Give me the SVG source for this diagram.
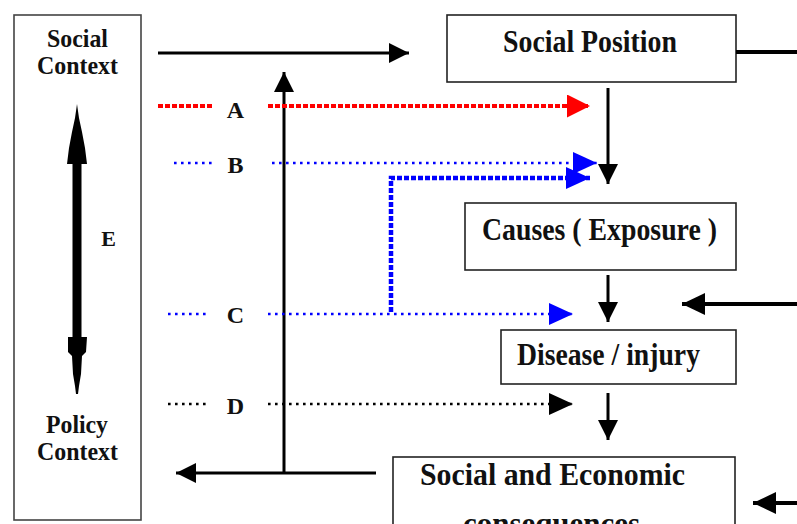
<svg xmlns="http://www.w3.org/2000/svg" width="797" height="524" viewBox="0 0 797 524">
<style>
.box{fill:#fff;stroke:#222;stroke-width:1.6}
.t{font-family:"Liberation Serif","Times New Roman",serif;font-weight:bold;fill:#111;text-anchor:middle}
.big{font-size:31px}
.side{font-size:25px}
.lab{font-size:24px}
.solid{fill:none;stroke:#000;stroke-width:3}
.thick{fill:none;stroke:#000;stroke-width:4}
.red{fill:none;stroke:#ff0000;stroke-width:4;stroke-dasharray:5 2}
.blue{fill:none;stroke:#0000ff;stroke-width:2.6;stroke-dasharray:2.6 4.4}
.bluethick{fill:none;stroke:#0000ff;stroke-width:4.5;stroke-dasharray:5 2}
.blk{fill:none;stroke:#000;stroke-width:2.6;stroke-dasharray:2.6 4.4}
</style>
<defs>
<marker id="hBlack" markerUnits="userSpaceOnUse" markerWidth="22" markerHeight="22" refX="20" refY="10" orient="auto"><path d="M0,0 L20,10 L0,20 z" fill="#000"/></marker>
<marker id="hBlackBig" markerUnits="userSpaceOnUse" markerWidth="26" markerHeight="24" refX="23" refY="11" orient="auto"><path d="M0,0 L23,11 L0,22 z" fill="#000"/></marker>
<marker id="hBlackDot" markerUnits="userSpaceOnUse" markerWidth="26" markerHeight="24" refX="24" refY="11" orient="auto"><path d="M0,0 L24,11 L0,22 z" fill="#000"/></marker>
<marker id="hRed" markerUnits="userSpaceOnUse" markerWidth="26" markerHeight="24" refX="23" refY="11.5" orient="auto"><path d="M0,0 L23,11.5 L0,23 z" fill="#ff0000"/></marker>
<marker id="hBlue" markerUnits="userSpaceOnUse" markerWidth="26" markerHeight="24" refX="24" refY="11" orient="auto"><path d="M0,0 L24,11 L0,22 z" fill="#0000ff"/></marker>
</defs>

<g id="node-social-context">
  <rect x="14" y="15" width="127" height="505" style="fill:none;stroke:#444;stroke-width:1.6"/>
  <text class="t side" x="77.5" y="47" textLength="61" lengthAdjust="spacingAndGlyphs">Social</text>
  <text class="t side" x="77.5" y="74" textLength="81" lengthAdjust="spacingAndGlyphs">Context</text>
  <text class="t side" x="77" y="433" textLength="62" lengthAdjust="spacingAndGlyphs">Policy</text>
  <text class="t side" x="77.5" y="460" textLength="81" lengthAdjust="spacingAndGlyphs">Context</text>
</g>

<g id="node-social-position">
  <rect class="box" x="447" y="15" width="289" height="67"/>
  <text class="t big" x="590" y="52" textLength="174" lengthAdjust="spacingAndGlyphs">Social Position</text>
</g>

<g id="node-causes">
  <rect class="box" x="465" y="203" width="271" height="67"/>
  <text class="t big" x="599.5" y="240" textLength="235" lengthAdjust="spacingAndGlyphs">Causes ( Exposure )</text>
</g>

<g id="node-disease">
  <rect class="box" x="501" y="330" width="235" height="54"/>
  <text class="t big" x="608.5" y="365" textLength="183" lengthAdjust="spacingAndGlyphs">Disease / injury</text>
</g>

<g id="node-consequences">
  <rect class="box" x="393" y="457" width="342" height="90"/>
  <text class="t big" x="552.5" y="485" textLength="265" lengthAdjust="spacingAndGlyphs">Social and Economic</text>
  <text class="t big" x="551.5" y="534" textLength="177" lengthAdjust="spacingAndGlyphs">consequences</text>
</g>

<g id="connectors">
  <line class="solid" x1="158" y1="53" x2="409" y2="53" marker-end="url(#hBlack)"/>
  <line class="solid" x1="284" y1="473" x2="284" y2="72" marker-end="url(#hBlack)"/>
  <line class="solid" x1="376" y1="473" x2="176" y2="473" marker-end="url(#hBlack)"/>
  <line class="thick" x1="736" y1="52" x2="797" y2="52"/>
  <line class="solid" x1="608" y1="88" x2="608" y2="184" marker-end="url(#hBlack)"/>
  <line class="solid" x1="608" y1="275" x2="608" y2="322" marker-end="url(#hBlack)"/>
  <line class="solid" x1="608" y1="393" x2="608" y2="440" marker-end="url(#hBlack)"/>
  <line class="thick" x1="797" y1="304" x2="682" y2="304" marker-end="url(#hBlackBig)"/>
  <line class="thick" x1="797" y1="503" x2="753" y2="503" marker-end="url(#hBlackBig)"/>
  <line class="red" x1="158" y1="106" x2="212" y2="106"/>
  <line class="red" x1="268" y1="106" x2="590" y2="106" marker-end="url(#hRed)"/>
  <line class="blue" x1="174" y1="163" x2="212" y2="163"/>
  <line class="blue" x1="272" y1="163" x2="597" y2="163" marker-end="url(#hBlue)"/>
  <polyline class="bluethick" points="391,312 391,178 590,178" marker-end="url(#hBlue)"/>
  <line class="blue" x1="168" y1="314" x2="208" y2="314"/>
  <line class="blue" x1="268" y1="314" x2="573" y2="314" marker-end="url(#hBlue)"/>
  <line class="blk" x1="168" y1="404" x2="208" y2="404"/>
  <line class="blk" x1="268" y1="404" x2="573" y2="404" marker-end="url(#hBlackDot)"/>
  <g id="arrowE" fill="#000">
    <rect x="72.5" y="160" width="9" height="180"/>
    <polygon points="77,104 79,118 82,132 85,148 87,164 67,164 69,148 72,132 75,118"/>
    <polygon points="68,337 87,337 86,352 82,356 81,374 79,386 78,394 76,394 75,386 73,374 72,356 68,352"/>
  </g>
</g>

<g id="labels">
  <text class="t lab" x="235.5" y="118">A</text>
  <text class="t lab" x="235.5" y="173">B</text>
  <text class="t lab" x="235.5" y="323">C</text>
  <text class="t lab" x="235.5" y="414">D</text>
  <text class="t" style="font-size:22px" x="108.5" y="246">E</text>
</g>
</svg>
